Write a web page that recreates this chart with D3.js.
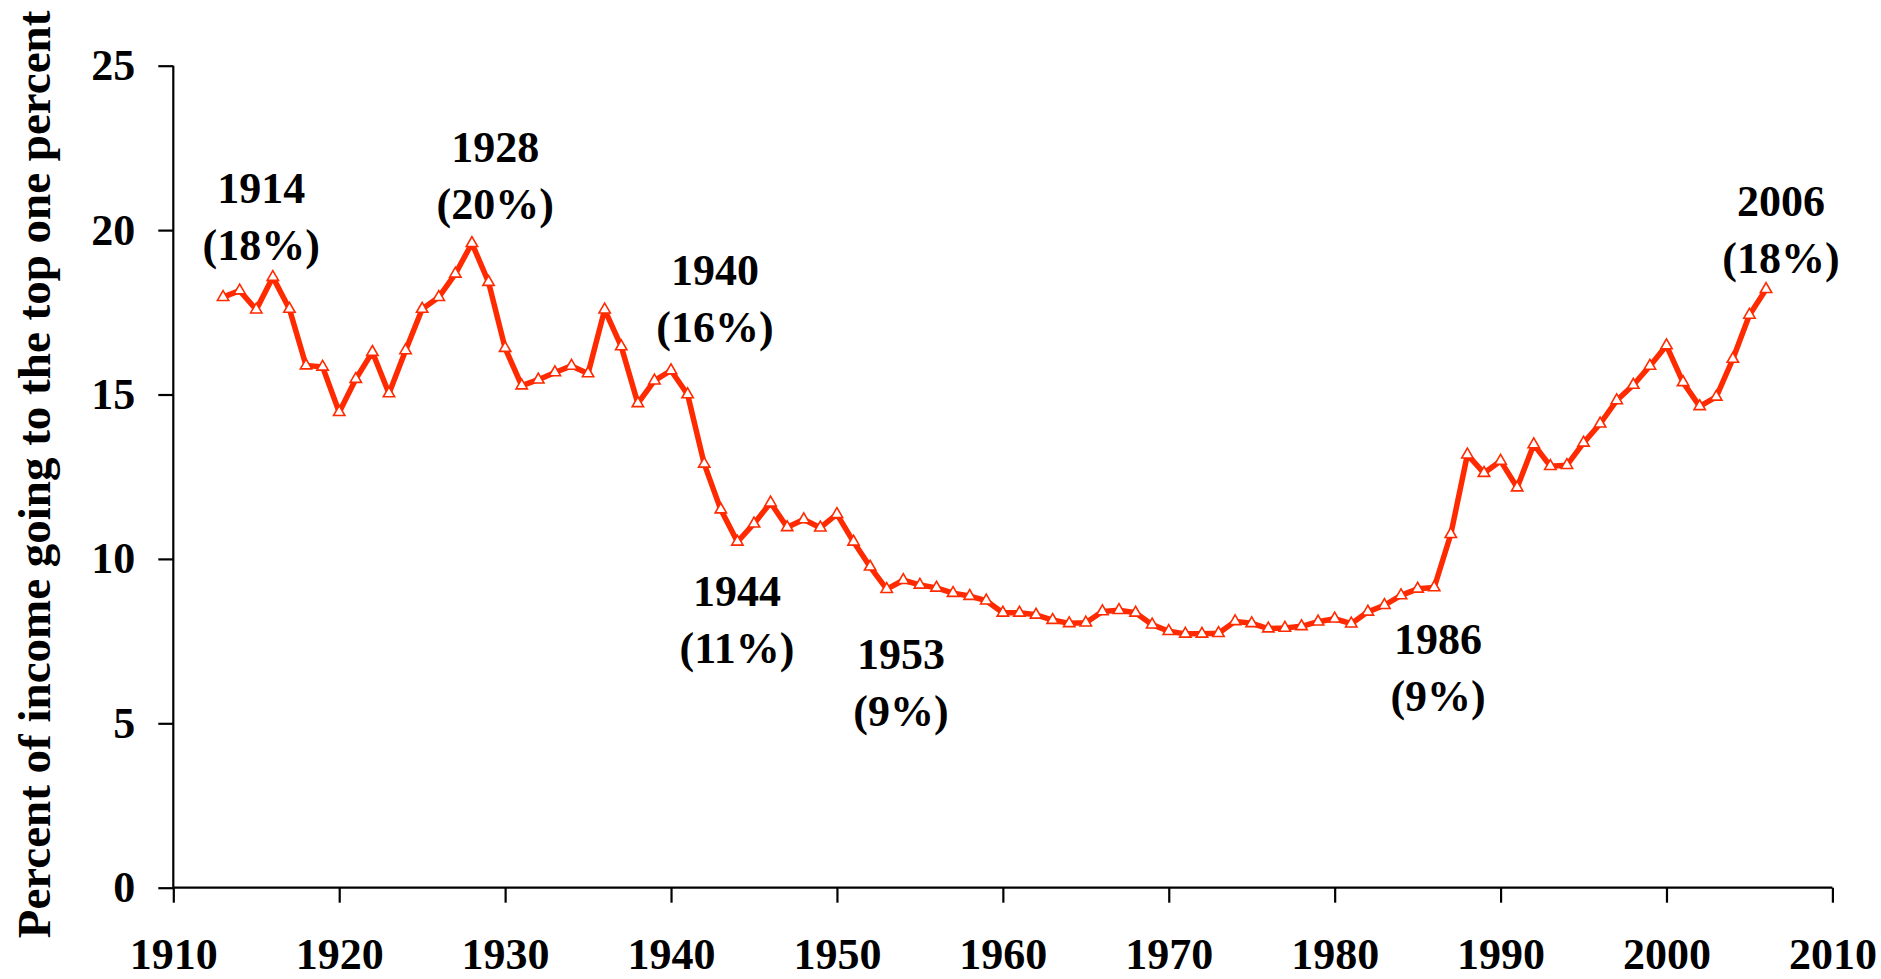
<!DOCTYPE html>
<html>
<head>
<meta charset="utf-8">
<script src="https://cdn.jsdelivr.net/npm/d3@7"></script>
<style>
  html, body { margin: 0; padding: 0; background: #fff; }
  svg { display: block; }
  text { font-family: "Liberation Serif", "Times New Roman", serif; font-weight: bold; fill: #000; }
</style>
</head>
<body>
<svg id="chart" width="1881" height="979"></svg>
<script>
// ---- Data ----
const years = [1913,1914,1915,1916,1917,1918,1919,1920,1921,1922,1923,1924,1925,1926,1927,1928,1929,1930,
  1931,1932,1933,1934,1935,1936,1937,1938,1939,1940,1941,1942,1943,1944,1945,1946,1947,1948,1949,1950,
  1951,1952,1953,1954,1955,1956,1957,1958,1959,1960,1961,1962,1963,1964,1965,1966,1967,1968,1969,1970,
  1971,1972,1973,1974,1975,1976,1977,1978,1979,1980,1981,1982,1983,1984,1985,1986,1987,1988,1989,1990,
  1991,1992,1993,1994,1995,1996,1997,1998,1999,2000,2001,2002,2003,2004,2005,2006];
const topOnePercent = [17.96,18.16,17.58,18.57,17.60,15.88,15.84,14.46,15.47,16.29,15.03,16.34,17.60,17.96,18.67,19.60,18.42,16.41,
  15.27,15.45,15.67,15.87,15.64,17.58,16.46,14.73,15.42,15.73,15.00,12.89,11.50,10.52,11.07,11.71,10.96,11.20,10.95,11.36,
  10.52,9.76,9.08,9.35,9.21,9.12,8.96,8.87,8.73,8.36,8.36,8.30,8.14,8.04,8.06,8.40,8.44,8.36,8.00,7.80,
  7.72,7.72,7.74,8.10,8.04,7.88,7.90,7.95,8.09,8.18,8.03,8.39,8.59,8.89,9.09,9.13,10.75,13.17,12.61,12.98,
  12.17,13.48,12.82,12.85,13.53,14.11,14.82,15.29,15.87,16.49,15.37,14.64,14.93,16.08,17.42,18.20];
const xTicks = [1910,1920,1930,1940,1950,1960,1970,1980,1990,2000,2010];
const yTicks = [0,5,10,15,20,25];
const yTitle = "Percent of income going to the top one percent";
// annotations: the year they refer to, and their two text lines
const noteYears = [1914,1928,1940,1944,1953,1986,2006];
const noteLines1 = ["1914","1928","1940","1944","1953","1986","2006"];
const noteLines2 = ["(18%)","(20%)","(16%)","(11%)","(9%)","(9%)","(18%)"];
// label anchor (centre of first line) in data units
const noteAnchorX = [1915.3,1929.4,1942.65,1943.98,1953.86,1986.23,2006.9];
const noteAnchorY = [21.27,22.51,18.76,9.0,7.08,7.54,20.87];

// ---- Layout ----
const W = 1881, H = 979;
const margin = {left: 173.3, right: 48.6, top: 65.7, bottom: 91.3};
const svg = d3.select("#chart");
const x = d3.scaleLinear().domain([1910, 2010]).range([margin.left, W - margin.right]);
const y = d3.scaleLinear().domain([0, 25]).range([H - margin.bottom, margin.top]);
const red = "#ff2a00";
const fs = 44;

// Axes
const yAxis = d3.axisLeft(y).tickValues(yTicks).tickSize(15).tickPadding(23).tickFormat(d3.format("d"));
const gy = svg.append("g").attr("transform", `translate(${margin.left},0)`).call(yAxis);
gy.select(".domain").attr("d", `M0,${y(25)}V${y(0)}`);
const xAxis = d3.axisBottom(x).tickValues(xTicks).tickSize(15).tickPadding(35).tickFormat(d3.format("d"));
const gx = svg.append("g").attr("transform", `translate(0,${y(0)})`).call(xAxis);
gx.select(".domain").attr("d", `M${x(1910)},0H${x(2010)}`);
[gx, gy].forEach(g => {
  g.selectAll("path,line").attr("stroke", "#000").attr("stroke-width", 2.2);
  g.selectAll("text").style("font-size", fs + "px").style("font-family", '"Liberation Serif", serif').style("font-weight", "bold").attr("fill", "#000");
});

// Y title
svg.append("text")
  .attr("transform", `translate(49.5,474.5) rotate(-90)`)
  .attr("text-anchor", "middle")
  .style("font-size", "47px")
  .text(yTitle);

// Line
const data = years.map((yr, i) => ({year: yr, value: topOnePercent[i]}));
const line = d3.line().x(d => x(d.year)).y(d => y(d.value));
svg.append("path").datum(data)
  .attr("d", line)
  .attr("fill", "none")
  .attr("stroke", red)
  .attr("stroke-width", 5.5)
  .attr("stroke-linejoin", "round");

// Markers: open triangles
const tri = d3.symbol().type(d3.symbolTriangle).size(56);
svg.append("g").selectAll("path").data(data).join("path")
  .attr("transform", d => `translate(${x(d.year)},${y(d.value)})`)
  .attr("d", tri)
  .attr("fill", "#fff")
  .attr("stroke", red)
  .attr("stroke-width", 1.6);

// Annotations
const lineGap = 57;
noteYears.forEach((yr, i) => {
  const g = svg.append("g").attr("class", "note");
  const cx = x(noteAnchorX[i]), cy = y(noteAnchorY[i]);
  g.append("text").attr("x", cx).attr("y", cy).attr("dy", "0.33em")
    .attr("text-anchor", "middle").style("font-size", fs + "px").text(noteLines1[i]);
  g.append("text").attr("x", cx).attr("y", cy + lineGap).attr("dy", "0.33em")
    .attr("text-anchor", "middle").style("font-size", fs + "px").text(noteLines2[i]);
});
</script>
</body>
</html>
